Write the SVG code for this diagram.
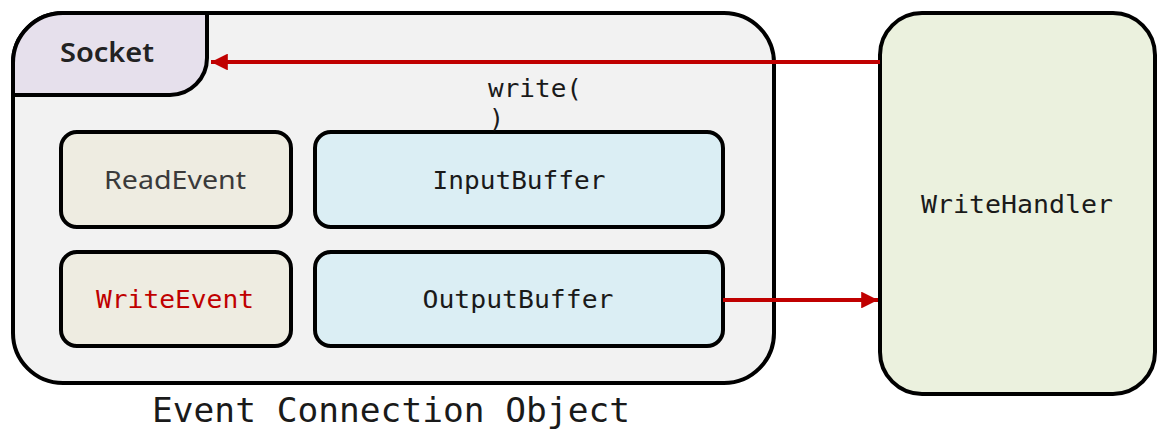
<svg xmlns="http://www.w3.org/2000/svg" width="1158" height="435" viewBox="0 0 1158 435">
  <defs>
    <style>
      .box { stroke: #000; stroke-width: 4; }
      .mono { font-family: "DejaVu Sans Mono", "Liberation Mono", monospace; fill: #1a1a1a; }
      .sans { font-family: "Noto Sans", "Liberation Sans", sans-serif; fill: #2a2a2a; }
      .wire { stroke: #c00000; stroke-width: 4; fill: none; }
    </style>
    <marker id="head" viewBox="0 0 10 10" refX="10" refY="5" markerWidth="6.5" markerHeight="4.2" markerUnits="strokeWidth" orient="auto">
      <path d="M0,0 L10,5 L0,10 Z" fill="#c00000"/>
    </marker>
  </defs>
  <rect width="1158" height="435" fill="#fff"/>

  <!-- Event connection container -->
  <g id="connection">
    <rect class="box" x="13" y="13" width="761" height="370" rx="50" fill="#f2f2f2"/>
    <text class="mono" x="391" y="422" font-size="33" text-anchor="middle" textLength="478" lengthAdjust="spacingAndGlyphs">Event Connection Object</text>
  </g>

  <!-- Socket tab in the corner of the container -->
  <g id="socket">
    <path class="box" d="M13,95 L13,63 A50,50 0 0 1 63,13 L207,13 L207,58 A37,37 0 0 1 170,95 Z" fill="#e6e0ec"/>
    <text class="sans" x="107" y="62" font-size="27" font-weight="600" text-anchor="middle" textLength="94" lengthAdjust="spacingAndGlyphs" style="fill:#222">Socket</text>
  </g>

  <g id="read-event">
    <rect class="box" x="61" y="132" width="230" height="95" rx="16" fill="#eeece1"/>
    <text class="sans" x="175" y="189" font-size="25" text-anchor="middle" textLength="142" lengthAdjust="spacingAndGlyphs" style="fill:#3a3a3a">ReadEvent</text>
  </g>

  <g id="input-buffer">
    <rect class="box" x="315" y="132" width="408" height="95" rx="16" fill="#dbeef4"/>
    <text class="mono" x="519" y="189" font-size="25" text-anchor="middle" textLength="173" lengthAdjust="spacingAndGlyphs">InputBuffer</text>
  </g>

  <g id="write-event">
    <rect class="box" x="61" y="252" width="230" height="94" rx="16" fill="#eeece1"/>
    <text class="mono" x="175" y="308" font-size="25" text-anchor="middle" textLength="158" lengthAdjust="spacingAndGlyphs" style="fill:#c00000">WriteEvent</text>
  </g>

  <g id="output-buffer">
    <rect class="box" x="315" y="252" width="408" height="94" rx="16" fill="#dbeef4"/>
    <text class="mono" x="518" y="308" font-size="25" text-anchor="middle" textLength="191" lengthAdjust="spacingAndGlyphs">OutputBuffer</text>
  </g>

  <g id="write-handler">
    <rect class="box" x="880" y="13" width="275" height="381" rx="42" fill="#ebf1de"/>
    <text class="mono" x="1017" y="213" font-size="25" text-anchor="middle" textLength="192" lengthAdjust="spacingAndGlyphs">WriteHandler</text>
  </g>

  <!-- Connectors -->
  <g id="connectors">
    <line class="wire" x1="880" y1="62" x2="211" y2="62" marker-end="url(#head)"/>
    <line class="wire" x1="723" y1="300" x2="878" y2="300" marker-end="url(#head)"/>
    <text class="mono" x="488" y="97" font-size="25" textLength="94" lengthAdjust="spacingAndGlyphs">write(</text>
    <text class="mono" x="489" y="127" font-size="25">)</text>
  </g>
</svg>
